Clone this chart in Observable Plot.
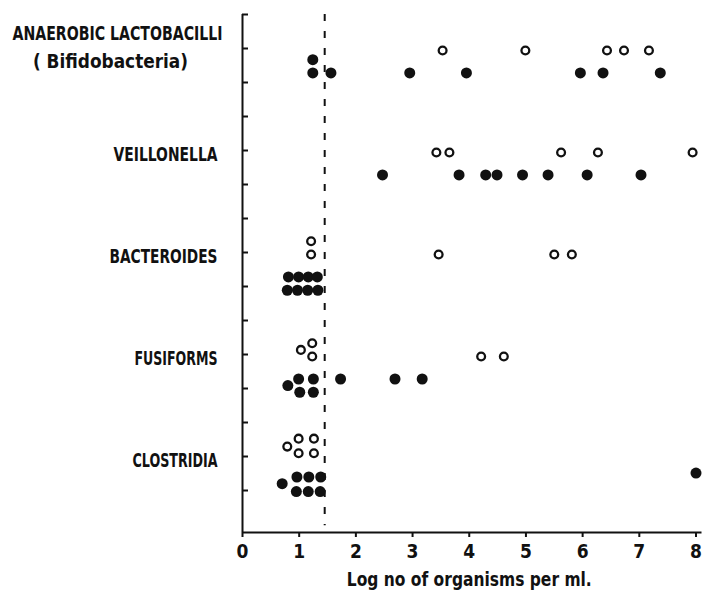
<!DOCTYPE html>
<html>
<head>
<meta charset="utf-8">
<script src="https://cdn.jsdelivr.net/npm/d3@7"></script>
<script src="https://cdn.jsdelivr.net/npm/@observablehq/plot@0.6"></script>
<style>
  html, body { margin: 0; padding: 0; background: #fff; }
  #chart svg { display: block; }
</style>
</head>
<body>
<div id="chart"></div>
<script>
// ---- data ----
const categories = ["ANAEROBIC LACTOBACILLI", "VEILLONELLA", "BACTEROIDES", "FUSIFORMS", "CLOSTRIDIA"];
const subNote = "( Bifidobacteria)";
const xLabel = "Log no of organisms per ml.";
const xTicks = [0, 1, 2, 3, 4, 5, 6, 7, 8];
const threshold = 1.45;

// [log value, stacking lane]
const lactoOpen   = [[3.53, 0], [4.99, 0], [6.43, 0], [6.73, 0], [7.17, 0]];
const lactoFilled = [[1.24, -1], [1.24, 0], [1.56, 0], [2.95, 0], [3.95, 0], [5.96, 0], [6.36, 0], [7.37, 0]];
const veilOpen    = [[3.42, 0], [3.65, 0], [5.62, 0], [6.27, 0], [7.94, 0]];
const veilFilled  = [[2.47, 0], [3.82, 0], [4.29, 0], [4.49, 0], [4.94, 0], [5.39, 0], [6.08, 0], [7.03, 0]];
const bactOpen    = [[1.21, 1], [1.21, 0], [3.46, 0], [5.50, 0], [5.81, 0]];
const bactFilled  = [[0.81, 0], [0.99, 0], [1.16, 0], [1.32, 0], [0.79, 1], [0.97, 1], [1.15, 1], [1.33, 1]];
const fusiOpen    = [[1.23, 1], [1.03, 0.5], [1.23, 0], [4.21, 0], [4.61, 0]];
const fusiFilled  = [[0.99, 0], [1.25, 0], [1.73, 0], [2.69, 0], [3.17, 0], [0.80, 0.5], [1.01, 1], [1.25, 1]];
const closOpen    = [[0.99, 1.5], [1.26, 1.5], [0.79, 0.9], [0.99, 0.4], [1.26, 0.4]];
const closFilled  = [[0.96, -0.3], [1.17, -0.3], [1.38, -0.3], [0.70, 0.2], [0.95, 0.8], [1.16, 0.8], [1.37, 0.8], [8.0, -0.6]];

const openSets = [lactoOpen, veilOpen, bactOpen, fusiOpen, closOpen];
const filledSets = [lactoFilled, veilFilled, bactFilled, fusiFilled, closFilled];

// ---- layout constants (in category units on the y scale) ----
const openBase = 0.02, filledBase = 0.24, rowStep = 0.13;
const yTop = -1 / 3, yBottom = 4.745, dashEnd = 4.68;
const yTicks = d3.range(-1, 14).map(k => k / 3);

const openPts = openSets.flatMap((set, i) => set.map(([x, lane]) => ({x, y: i + openBase - lane * rowStep})));
const filledPts = filledSets.flatMap((set, i) => set.map(([x, lane]) => ({x, y: i + filledBase + lane * rowStep})));
const singleLabels = categories.map((name, i) => ({name, i})).slice(1);

// rendered widths of the condensed lettering in the reference
const textWidths = new Map([
  ["ANAEROBIC LACTOBACILLI", 210], ["VEILLONELLA", 104], ["BACTEROIDES", 108],
  ["FUSIFORMS", 83], ["CLOSTRIDIA", 85], [subNote, 155], [xLabel, 245]
]);

const FONT = "'DejaVu Sans Condensed', 'Liberation Sans Narrow', sans-serif";
const INK = "#111";

const chart = Plot.plot({
  width: 702,
  height: 596,
  marginLeft: 242,
  marginRight: 6.5,
  marginTop: 14,
  marginBottom: 64,
  style: {fontFamily: FONT, background: "#fff", color: INK, overflow: "visible"},
  x: {domain: [0, 8]},
  y: {domain: [yTop, yBottom], reverse: true, axis: null},
  marks: [
    Plot.ruleX([0], {stroke: INK, strokeWidth: 2}),
    Plot.ruleY([yBottom], {stroke: INK, strokeWidth: 2, insetRight: -6}),
    Plot.ruleY(yTicks, {x1: 0, x2: 0, insetRight: -6, stroke: INK, strokeWidth: 2}),
    Plot.axisX(xTicks, {tickSize: 5, tickPadding: 7, fontSize: 19, fontWeight: "bold", stroke: INK, strokeWidth: 2, fill: INK, label: null}),
    Plot.ruleX([threshold], {y1: yTop, y2: dashEnd, stroke: INK, strokeWidth: 2, strokeDasharray: "7,10"}),
    Plot.dot(filledPts, {x: "x", y: "y", r: 5.5, fill: INK, stroke: "none"}),
    Plot.dot(openPts, {x: "x", y: "y", r: 3.9, fill: "#fff", stroke: INK, strokeWidth: 2.3}),
    Plot.text(singleLabels, {x: () => 0, y: "i", text: "name", textAnchor: "end", dx: -25, dy: 4, fontSize: 20, fontWeight: "bold", fill: INK}),
    Plot.text([categories[0]], {x: () => 0, y: () => 0, text: d => d, textAnchor: "end", dx: -20, dy: -15, fontSize: 20, fontWeight: "bold", fill: INK}),
    Plot.text([subNote], {x: () => 0, y: () => 0, text: d => d, textAnchor: "middle", dx: -132, dy: 13, fontSize: 20, fontWeight: "bold", fill: INK}),
    Plot.text([xLabel], {frameAnchor: "bottom", text: d => d, dy: 53, fontSize: 19, fontWeight: "bold", fill: INK})
  ]
});

// squeeze the lettering to the condensed widths of the reference
chart.querySelectorAll("text").forEach(t => {
  const w = textWidths.get(t.textContent);
  if (w) {
    t.setAttribute("textLength", w);
    t.setAttribute("lengthAdjust", "spacingAndGlyphs");
  }
});

document.getElementById("chart").appendChild(chart);
</script>
</body>
</html>
